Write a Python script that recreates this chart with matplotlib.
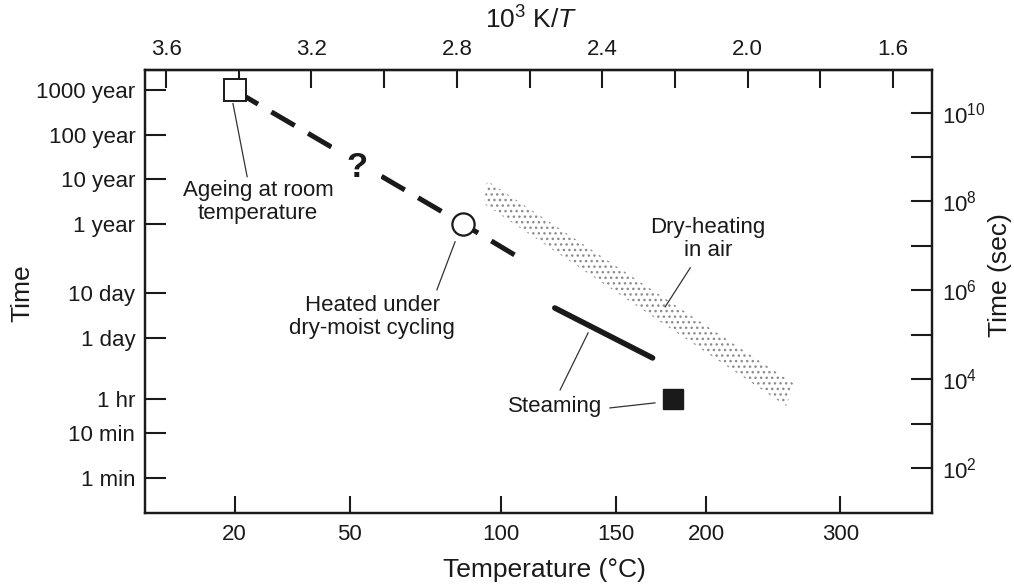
import numpy as np
import matplotlib
matplotlib.use("Agg")
import matplotlib.pyplot as plt
from matplotlib.ticker import FixedLocator, NullLocator, FixedFormatter

plt.rcParams['font.family'] = ['Liberation Sans', 'DejaVu Sans']
plt.rcParams['mathtext.fontset'] = 'custom'
plt.rcParams['mathtext.rm'] = 'Liberation Sans'
plt.rcParams['mathtext.it'] = 'Liberation Sans:italic'
plt.rcParams['hatch.linewidth'] = 1.0

MIN, HR, DAY = 60.0, 3600.0, 86400.0
YEAR = 365.25 * DAY

# axis ticks
time_ticks = [MIN, 10*MIN, HR, DAY, 10*DAY, YEAR, 10*YEAR, 100*YEAR, 1000*YEAR]
time_labels = ['1 min', '10 min', '1 hr', '1 day', '10 day', '1 year',
               '10 year', '100 year', '1000 year']
sec_ticks = [10.0**k for k in range(2, 11)]
sec_labels = ['$10^{%d}$' % k if k % 2 == 0 else '' for k in range(2, 11)]
temp_ticks = [20, 50, 100, 150, 200, 300]
invT_ticks = [3.6, 3.4, 3.2, 3.0, 2.8, 2.6, 2.4, 2.2, 2.0, 1.8, 1.6]
invT_labels = ['3.6', '', '3.2', '', '2.8', '', '2.4', '', '2.0', '', '1.6']

# ageing at room temperature, extrapolated through the dry-moist cycling point
ageing_temp = [20, 86, 106]
ageing_time = [1000*YEAR, YEAR, 6.0e6]
room_temp, room_time = 20, 1000*YEAR
cycling_temp, cycling_time = 86, YEAR

# steaming
steam_line_temp = [122, 169]
steam_line_time = [4.0e5, 3.0e4]
steam_temp, steam_time = 180, HR

# dry-heating in air (band corners)
dry_temp = [94.9, 261.0, 254.8, 93.8]
dry_time = [2.94e8, 7.8e3, 2.5e3, 8.9e7]


def inv(c):
    return 1000.0 / (np.asarray(c, dtype=float) + 273.15)


fig = plt.figure(figsize=(10.14, 5.84), dpi=100)
ax = fig.add_axes([145/1014, 1 - 513/584, 787/1014, 443/584])
ax.set_yscale('log')
ax.set_xlim(3.658, 1.493)
ax.set_ylim(10**0.986, 10**10.96)

ink = '#1a1a1a'

# dry-heating band
ax.fill(inv(dry_temp), dry_time, facecolor='none', edgecolor='#8c8c8c',
        hatch='...', linewidth=0, zorder=1)

# extrapolated ageing line
ax.plot(inv(ageing_temp), ageing_time, color=ink, lw=3.6,
        linestyle=(0, (5.4, 3.1)), dash_capstyle='butt', zorder=2)
ax.plot(inv(room_temp), room_time, 's', ms=15.5, mfc='white', mec=ink,
        mew=1.4, zorder=4)
ax.plot(inv(cycling_temp), cycling_time, 'o', ms=16, mfc='white', mec=ink,
        mew=1.6, zorder=4)
ax.text(3.075, 10**8.761, '?', fontsize=25, fontweight='bold', color=ink,
        ha='center', va='center', zorder=5,
        bbox=dict(facecolor='white', edgecolor='none', pad=10))

# steaming
ax.plot(inv(steam_line_temp), steam_line_time, color=ink, lw=4,
        solid_capstyle='round', zorder=3)
ax.plot(inv(steam_temp), steam_time, 's', ms=15, mfc=ink, mec=ink, zorder=4)

# leader lines (x in 1000/T, y in log10 seconds)
leaders = [
    ((3.416, 3.377), (10.203, 8.558)),
    ((2.805, 2.855), (7.093, 6.011)),
    ((2.158, 2.227), (6.507, 5.628)),
    ((2.439, 2.516), (5.042, 3.758)),
    ((2.255, 2.379), (3.465, 3.352)),
]
for xs, ls in leaders:
    ax.plot(xs, 10**np.array(ls), color='#333333', lw=0.9, zorder=3)

lab = dict(fontsize=16, color=ink, ha='center', va='center', linespacing=1.1,
           zorder=6)
ax.text(3.347, 10**7.994, 'Ageing at room\ntemperature', **lab)
ax.text(3.033, 10**5.403, 'Heated under\ndry-moist cycling', **lab)
ax.text(2.109, 10**7.161, 'Dry-heating\nin air', **lab)
ax.text(2.530, 10**3.375, 'Steaming', **lab)

# left axis: time
ax.yaxis.set_major_locator(FixedLocator(time_ticks))
ax.yaxis.set_major_formatter(FixedFormatter(time_labels))
ax.yaxis.set_minor_locator(NullLocator())

# bottom axis: temperature in degC
ax.xaxis.set_major_locator(FixedLocator(inv(temp_ticks)))
ax.xaxis.set_major_formatter(FixedFormatter([str(t) for t in temp_ticks]))
ax.xaxis.set_minor_locator(NullLocator())

ax.tick_params(axis='y', direction='in', length=15, width=1.5, pad=7,
               labelsize=16, labelcolor=ink, color=ink)
ax.tick_params(axis='x', direction='in', length=12, width=1.5, pad=8,
               labelsize=16, labelcolor=ink, color=ink)

# top axis: 1000/T
top = ax.secondary_xaxis('top')
top.xaxis.set_major_locator(FixedLocator(invT_ticks))
top.xaxis.set_major_formatter(FixedFormatter(invT_labels))
top.tick_params(direction='in', length=13, width=1.5, pad=7,
                labelsize=16, labelcolor=ink, color=ink)

# right axis: seconds
rax = ax.twinx()
rax.set_yscale('log')
rax.set_ylim(ax.get_ylim())
rax.yaxis.set_major_locator(FixedLocator(sec_ticks))
rax.yaxis.set_major_formatter(FixedFormatter(sec_labels))
rax.yaxis.set_minor_locator(NullLocator())
rax.tick_params(direction='in', length=15, width=1.5, pad=7,
                labelsize=16, labelcolor=ink, color=ink)

for a in (ax, rax, top):
    for s in a.spines.values():
        s.set_linewidth(1.6)
        s.set_color(ink)

fig.text(544/1014, 1 - 570/584, 'Temperature (°C)', fontsize=19,
         color=ink, ha='center', va='center')
fig.text(22/1014, 1 - 293/584, 'Time', fontsize=19, color=ink,
         rotation=90, ha='center', va='center')
fig.text(1000/1014, 1 - 275/584, 'Time (sec)', fontsize=19, color=ink,
         rotation=90, ha='center', va='center')
fig.text(531/1014, 1 - 20/584, '10$^3$ K/$T$', fontsize=19, color=ink,
         ha='center', va='center')

fig.savefig('out.png', dpi=100)
